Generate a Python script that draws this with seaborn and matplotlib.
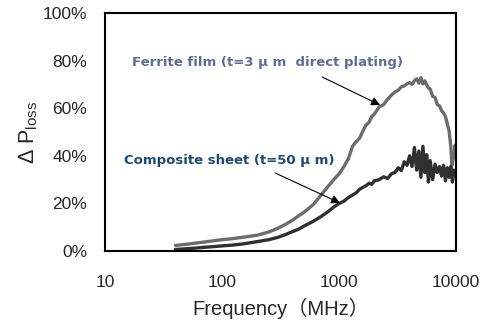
import numpy as np
import pandas as pd
import matplotlib
matplotlib.use("Agg")
import matplotlib.pyplot as plt
import seaborn as sns
from matplotlib.ticker import FuncFormatter, MultipleLocator, LogLocator, NullFormatter

# Ferrite film (t=3um, direct plating)
ferrite_freq = [40, 50, 60, 70, 80, 100, 120, 150, 200, 250, 300, 350, 400, 450, 500,
                600, 700, 800, 900, 1000, 1100, 1200, 1300, 1400, 1500, 1600, 1700,
                1800, 1900, 2000, 2200, 2400, 2600, 2800, 3000, 3200, 3400, 3600, 3800,
                4000, 4200, 4400, 4600, 4800, 5000, 5200, 5400, 5600, 5800, 6000, 6300,
                6600, 6900, 7200, 7500, 7800, 8100, 8400, 8700, 9000, 9200, 9400, 9600,
                9800, 10000]
ferrite_loss = [2.4, 2.9, 3.4, 3.8, 4.2, 4.8, 5.2, 5.8, 6.7, 8.0, 9.6, 11.3, 13.0, 14.8, 16.3,
                19.5, 23.5, 27.0, 30.0, 32.5, 35.5, 38.8, 44.0, 46.0, 47.5, 50.5, 53.0,
                54.0, 56.5, 57.5, 60.5, 61.5, 63.8, 65.5, 66.8, 67.5, 69.0, 69.3, 70.2,
                70.8, 70.0, 71.5, 72.3, 70.5, 72.8, 70.2, 71.5, 69.8, 68.5, 68.0, 65.0,
                64.5, 61.5, 61.0, 59.0, 58.0, 56.5, 53.5, 50.5, 44.0, 36.0, 38.5, 40.0,
                44.5, 40.0]

# Composite sheet (t=50um)
composite_freq = [40, 50, 60, 70, 80, 100, 120, 150, 200, 250, 300, 350, 400, 450, 500,
                  600, 700, 800, 900, 1000, 1100, 1200, 1300, 1400, 1500, 1600, 1700,
                  1800, 1900, 2000, 2200, 2400, 2600, 2800, 3000, 3200, 3400, 3600, 3800,
                  4000, 4200, 4400, 4600, 4800, 5000, 5200, 5400, 5600, 5800, 6000, 6300,
                  6600, 6900, 7200, 7500, 7800, 8100, 8400, 8700, 9000, 9300, 9600, 10000]
composite_loss = [0.7, 1.0, 1.3, 1.6, 1.8, 2.2, 2.5, 3.0, 4.0, 4.8, 5.8, 7.0, 8.2, 9.2, 10.5,
                  12.5, 14.5, 16.5, 18.5, 20.0, 21.0, 22.5, 23.5, 24.5, 26.0, 26.8, 27.5,
                  28.5, 28.0, 29.5, 30.0, 31.2, 30.5, 32.5, 33.0, 35.0, 33.8, 37.5, 36.0,
                  40.0, 35.5, 43.5, 34.0, 42.0, 31.0, 44.0, 33.0, 40.5, 29.0, 38.0, 30.0,
                  36.5, 33.0, 35.5, 31.5, 36.0, 29.5, 35.0, 31.0, 35.5, 29.0, 34.0, 33.0]

x_ticks = [10, 100, 1000, 10000]
y_ticks = [0, 20, 40, 60, 80, 100]

sns.set_style("white")
plt.rcParams['font.family'] = ['Liberation Sans', 'Noto Sans CJK JP', 'DejaVu Sans']
plt.rcParams['mathtext.default'] = 'regular'

fig = plt.figure(figsize=(4.91, 3.30), dpi=100)
ax = fig.add_axes([0.214, 0.239, 0.715, 0.722])

df_f = pd.DataFrame({"freq": ferrite_freq, "loss": ferrite_loss})
df_c = pd.DataFrame({"freq": composite_freq, "loss": composite_loss})
sns.lineplot(data=df_f, x="freq", y="loss", ax=ax, color="#6c6c6c", linewidth=2.4)
sns.lineplot(data=df_c, x="freq", y="loss", ax=ax, color="#303030", linewidth=2.4)

ax.set_xscale("log")
ax.set_xlim(10, 10000)
ax.set_ylim(0, 100)
ax.set_xticks(x_ticks)
ax.xaxis.set_major_formatter(FuncFormatter(lambda v, p: f"{int(v)}"))
ax.xaxis.set_minor_locator(LogLocator(base=10, subs=np.arange(2, 10)))
ax.xaxis.set_minor_formatter(NullFormatter())
ax.set_yticks(y_ticks)
ax.yaxis.set_minor_locator(MultipleLocator(10))
ax.yaxis.set_major_formatter(FuncFormatter(lambda v, p: f"{int(v)}%"))

ax.tick_params(which="both", direction="in", length=4, width=1, color="black",
               top=False, right=False, labelsize=12.5)
ax.tick_params(axis="y", pad=13)
ax.tick_params(axis="x", pad=17)
for s in ax.spines.values():
    s.set_color("black")
    s.set_linewidth(1.5)

ax.set_xlabel("Frequency（MHz）", fontsize=14.5, labelpad=6)
ax.set_ylabel("Δ P$_{loss}$", fontsize=15.5, labelpad=2)

ax.text(242, 79, "Ferrite film (t=3 μ m  direct plating)", fontsize=9.5, color="#5b6f94",
        fontweight="bold", family="DejaVu Sans", ha="center", va="center")
ax.text(115, 38.2, "Composite sheet (t=50 μ m)", fontsize=9.5, color="#1e4a72",
        fontweight="bold", family="DejaVu Sans", ha="center", va="center")
ax.annotate("", xy=(2240, 61.3), xytext=(716, 73.1),
            arrowprops=dict(arrowstyle="-|>", color="black", lw=0.8, mutation_scale=13,
                            shrinkA=0, shrinkB=0))
ax.annotate("", xy=(1020, 20.2), xytext=(284, 32.8),
            arrowprops=dict(arrowstyle="-|>", color="black", lw=0.8, mutation_scale=13,
                            shrinkA=0, shrinkB=0))

fig.savefig("out.png", dpi=100)
